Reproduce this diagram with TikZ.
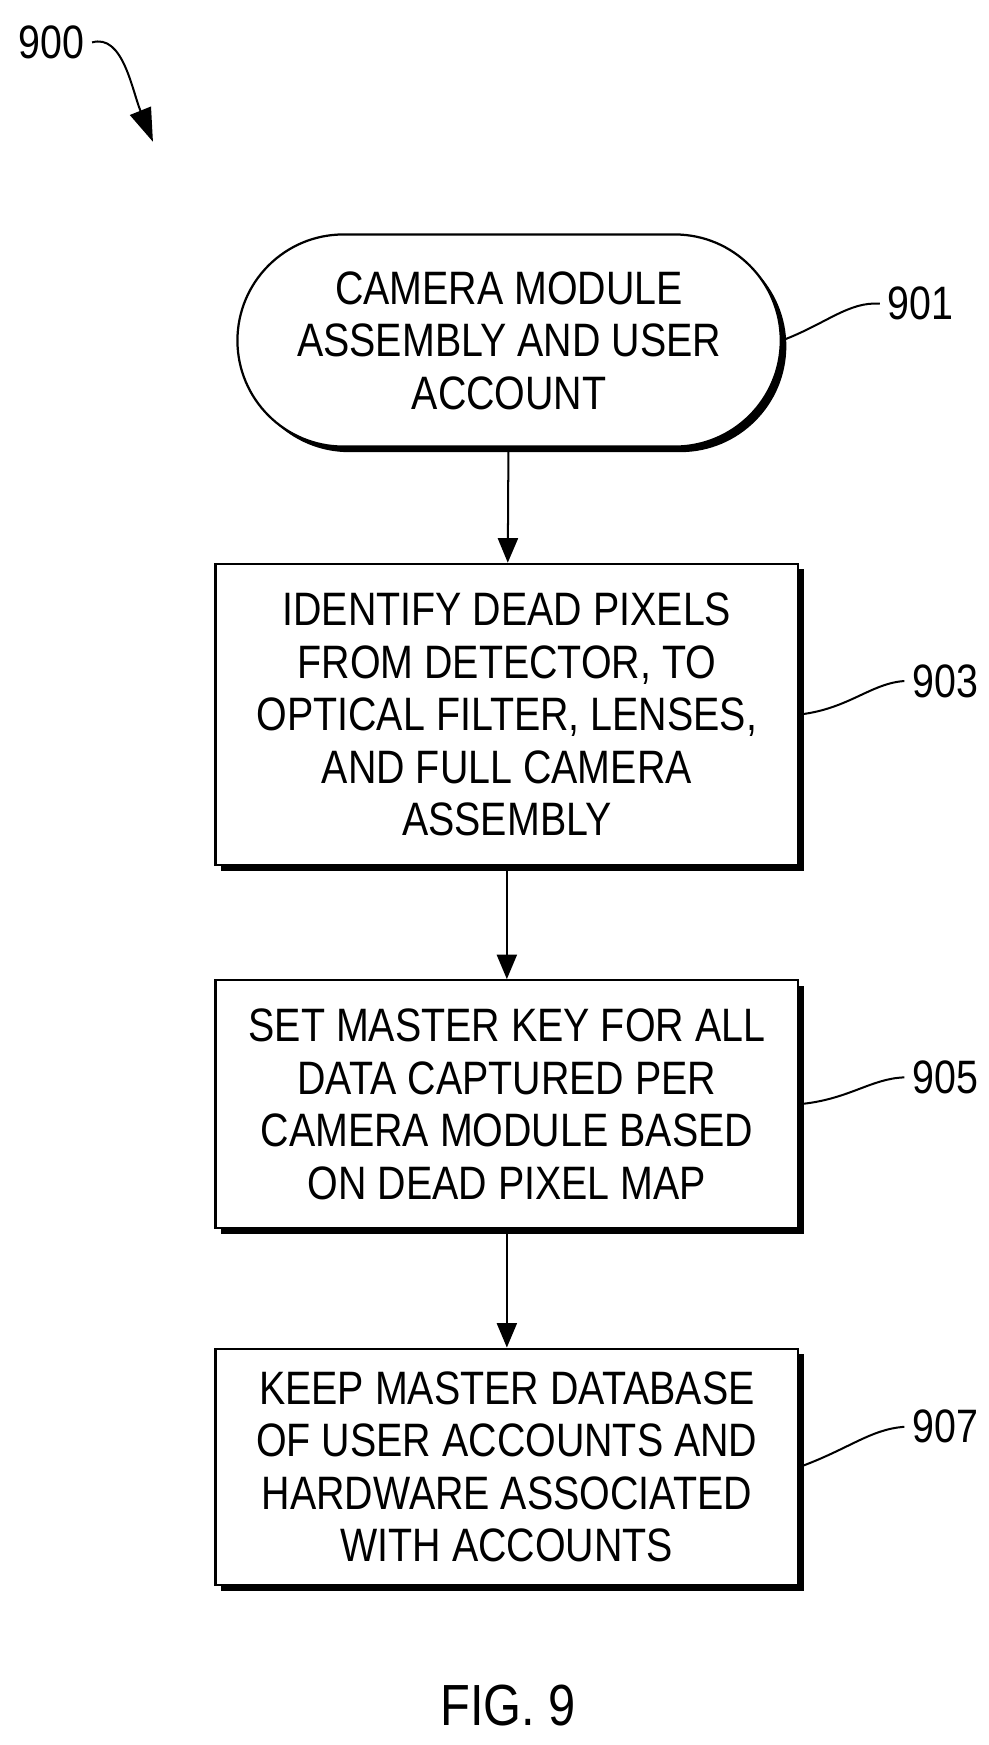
\documentclass[tikz,border=0pt]{standalone}
\usepackage{fontspec}
\setmainfont{Liberation Sans}[FakeStretch=0.84]
\usetikzlibrary{positioning,shadows,arrows.meta,shapes.misc}

\tikzset{
  stepbox/.style={draw,line width=1pt,fill=white,minimum width=261pt,align=center,
    font=\fontsize{21}{23.5}\selectfont,
    drop shadow={shadow xshift=2.5pt,shadow yshift=-2.5pt,fill=black,opacity=1}},
  term/.style={stepbox,rounded rectangle,minimum width=250pt,minimum height=95pt},
  flow/.style={draw,line width=0.9pt,-{Triangle[length=11pt,width=9pt]}},
  ref/.style={font=\fontsize{21}{23.5}\selectfont},
  lead/.style={draw,line width=0.9pt}
}

\begin{document}
\begin{tikzpicture}[x=0.5pt,y=0.5pt,yscale=-1]
\useasboundingbox (0,0) rectangle (885,1563);

% steps
\node[term] (s901) at (456,305) {CAMERA MODULE\\ASSEMBLY AND USER\\ACCOUNT};
\node[stepbox,minimum height=135pt] (s903) at (454,640) {IDENTIFY DEAD PIXELS\\FROM DETECTOR, TO\\OPTICAL FILTER, LENSES,\\AND FULL CAMERA\\ASSEMBLY};
\node[stepbox,minimum height=111pt] (s905) at (454,989) {SET MASTER KEY FOR ALL\\DATA CAPTURED PER\\CAMERA MODULE BASED\\ON DEAD PIXEL MAP};
\node[stepbox,minimum height=106pt] (s907) at (454,1314) {KEEP MASTER DATABASE\\OF USER ACCOUNTS AND\\HARDWARE ASSOCIATED\\WITH ACCOUNTS};

\draw[flow] (s901) -- (s903);
\draw[flow] (s903) -- (s905);
\draw[flow] (s905) -- (s907);

% reference numerals
\node[ref] (r900) at (46,38) {900};
\coordinate (r900tip) at (137,127);
\draw[line width=0.9pt,-{Triangle[length=15pt,width=10pt]}] (r900.east) .. controls (110,30) and (118,80) .. (r900tip);

\node[ref,anchor=west] (r901) at (788,272) {901};
\draw[lead] (s901.east) .. controls (740,290) and (760,270) .. (r901.west);
\node[ref,anchor=west] (r903) at (810,610) {903};
\draw[lead] (s903.east) .. controls (760,635) and (780,612) .. (r903.west);
\node[ref,anchor=west] (r905) at (810,965) {905};
\draw[lead] (s905.east) .. controls (760,985) and (780,966) .. (r905.west);
\node[ref,anchor=west] (r907) at (810,1278) {907};
\draw[lead] (s907.east) .. controls (760,1298) and (780,1280) .. (r907.west);

\node[font=\fontsize{26}{30}\selectfont] (fig) at (455,1528) {FIG. 9};
\end{tikzpicture}
\end{document}
